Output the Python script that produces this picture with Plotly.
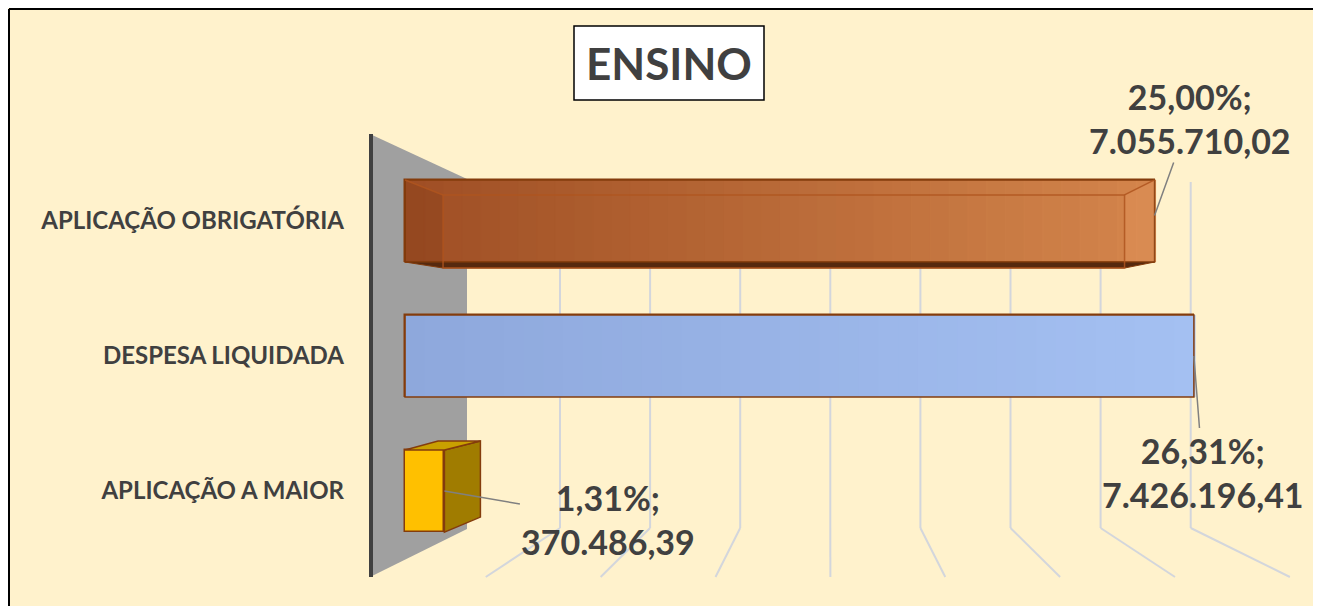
import plotly.graph_objects as go

# ---- data ----
categories = ["APLICAÇÃO A MAIOR", "DESPESA LIQUIDADA", "APLICAÇÃO OBRIGATÓRIA"]
values = [370486.39, 7426196.41, 7055710.02]
percents = [1.31, 26.31, 25.00]
title_text = "ENSINO"

# ---- geometry helpers ----
# the page body adds an 8px margin, so the figure starts at page (8, 8)
OFF = 8
W, H = 1321 - OFF, 606 - OFF
PL, PR, PT, PB = 370, 1300, 130, 580      # plot area in page pixels
L, R, T, B = PL - OFF, PR - OFF, PT - OFF, PB - OFF
XMIN, XMAX = -330000, 8425000
YMIN, YMAX = -0.659, 2.674
DXU = (XMAX - XMIN) / (R - L)   # data units per pixel (x)
DYU = (YMAX - YMIN) / (B - T)   # data units per pixel (y)
HW = 0.304                      # half bar width


def px(x):
    return (x - PL) / (PR - PL)


def py(y):
    return (PB - y) / (PB - PT)


def br(v):
    s = f"{v:,.2f}"
    return s.replace(",", "#").replace(".", ",").replace("#", ".")


def pct(p):
    return f"{p:.2f}".replace(".", ",") + "%"


def mix(c1, c2, t):
    return "rgb(%d,%d,%d)" % tuple(round(a + (b - a) * t) for a, b in zip(c1, c2))


FONT = "Lato"
TXT = "#404040"
EDGE = "#843C0C"

bar_colors = ["#FFC000", "#97B3E5", "rgba(184,98,46,0.93)"]

fig = go.Figure()
fig.add_trace(go.Bar(
    x=values, y=list(range(len(categories))), orientation="h",
    width=2 * HW, marker=dict(color=bar_colors, line=dict(color=EDGE, width=1.5)),
    hoverinfo="skip",
))

shapes = []

# outer border (only top/left visible, as in reference)
shapes.append(dict(type="line", xref="paper", yref="paper",
                   x0=px(9), x1=px(1330), y0=py(9), y1=py(9),
                   line=dict(color="black", width=2), layer="below"))
shapes.append(dict(type="line", xref="paper", yref="paper",
                   x0=px(9), x1=px(9), y0=py(9), y1=py(620),
                   line=dict(color="black", width=2), layer="below"))

# floor / back grid lines (decoration)
vp = 830
for k in range(8):
    xb = 560 + 90.1 * k
    xf = vp + (xb - vp) * 1.275
    shapes.append(dict(type="line", xref="paper", yref="paper",
                       x0=px(xb), x1=px(xb), y0=py(182), y1=py(528),
                       line=dict(color="#D3D6DC", width=2), layer="below"))
    shapes.append(dict(type="line", xref="paper", yref="paper",
                       x0=px(xb), x1=px(xf), y0=py(528), y1=py(577),
                       line=dict(color="#D3D6DC", width=2), layer="below"))

# grey side wall
shapes.append(dict(type="path", xref="paper", yref="paper",
                   path=f"M {px(370)} {py(134)} L {px(467)} {py(179)} L {px(467)} {py(529)} L {px(370)} {py(577)} Z",
                   fillcolor="#A0A0A0", line=dict(width=0), layer="below"))
shapes.append(dict(type="line", xref="paper", yref="paper",
                   x0=px(371), x1=px(371), y0=py(134), y1=py(577),
                   line=dict(color="#404040", width=4), layer="below"))

# horizontal colour gradients over the brown and blue bars
N = 40
grads = {2: ((158, 78, 36), (212, 134, 76), 0.94), 1: ((142, 168, 220), (164, 192, 242), 1.0)}
for idx, (c1, c2, op) in grads.items():
    v = values[idx]
    for s in range(N):
        shapes.append(dict(type="rect", xref="x", yref="y",
                           x0=v * s / N, x1=v * (s + 1) / N + v * 0.002,
                           y0=idx - HW, y1=idx + HW,
                           fillcolor=mix(c1, c2, s / (N - 1)), opacity=op,
                           line=dict(width=0), layer="above"))
    shapes.append(dict(type="rect", xref="x", yref="y", x0=0, x1=v, y0=idx - HW, y1=idx + HW,
                       line=dict(color=EDGE, width=1.5), layer="above"))

# 3D details for "APLICAÇÃO OBRIGATÓRIA" (index 2)
v, yc = values[2], 2
fl, fr, ft, fb = 38 * DXU, 30 * DXU, 15 * DYU, 6 * DYU
shapes.append(dict(type="path", xref="x", yref="y",
                   path=f"M 0 {yc+HW} L {fl} {yc+HW-ft} L {fl} {yc-HW-fb} L 0 {yc-HW} Z",
                   fillcolor="rgba(90,35,5,0.15)", line=dict(width=0), layer="above"))
shapes.append(dict(type="path", xref="x", yref="y",
                   path=f"M {v} {yc+HW} L {v-fr} {yc+HW-ft} L {v-fr} {yc-HW-fb} L {v} {yc-HW} Z",
                   fillcolor="rgba(240,165,110,0.22)", line=dict(width=0), layer="above"))
shapes.append(dict(type="path", xref="x", yref="y",
                   path=f"M 0 {yc-HW} L {v} {yc-HW} L {v-fr} {yc-HW-fb} L {fl} {yc-HW-fb} Z",
                   fillcolor="#56290E", line=dict(color=EDGE, width=1), layer="above"))
shapes.append(dict(type="rect", xref="x", yref="y",
                   x0=fl, x1=v - fr, y0=yc - HW - fb, y1=yc + HW - ft,
                   line=dict(color="rgba(175,85,30,0.85)", width=1.5), layer="above"))
shapes.append(dict(type="line", xref="x", yref="y", x0=0, y0=yc + HW, x1=fl, y1=yc + HW - ft,
                   line=dict(color="rgba(175,85,30,0.85)", width=1.5), layer="above"))
shapes.append(dict(type="line", xref="x", yref="y", x0=v, y0=yc + HW, x1=v - fr, y1=yc + HW - ft,
                   line=dict(color="rgba(175,85,30,0.85)", width=1.5), layer="above"))

# 3D details for "APLICAÇÃO A MAIOR" (index 0)
v, yc = values[0], 0
dx, dtop, dbot = 36 * DXU, 9 * DYU, 15 * DYU
shapes.append(dict(type="path", xref="x", yref="y",
                   path=f"M {v} {yc+HW} L {v+dx} {yc+HW+dtop} L {v+dx} {yc-HW+dbot} L {v} {yc-HW} Z",
                   fillcolor="#A07C00", line=dict(color=EDGE, width=1.5), layer="above"))
shapes.append(dict(type="path", xref="x", yref="y",
                   path=f"M 0 {yc+HW} L {v} {yc+HW} L {v+dx} {yc+HW+dtop} L {33*DXU} {yc+HW+dtop} Z",
                   fillcolor="#C9A000", line=dict(color=EDGE, width=1.5), layer="above"))

# title box
shapes.append(dict(type="rect", xref="paper", yref="paper",
                   x0=px(574), x1=px(764), y0=py(100), y1=py(26),
                   fillcolor="white", line=dict(color="black", width=1.5), layer="below"))

annotations = [dict(
    xref="paper", yref="paper", x=px(669), y=py(63), text=f"<b>{title_text}</b>",
    showarrow=False, font=dict(family=FONT, size=44, color=TXT),
    xanchor="center", yanchor="middle",
)]

label_offsets = [(164, 28), (9, 116), (35, -97)]
label_yshift = [0, 0, 0.04]
for i, (val, p) in enumerate(zip(values, percents)):
    ax, ay = label_offsets[i]
    annotations.append(dict(
        x=val, y=i + label_yshift[i], xref="x", yref="y",
        text=f"<b>{pct(p)};<br>{br(val)}</b>",
        showarrow=True, arrowhead=0, arrowwidth=1.5, arrowcolor="#808080",
        ax=ax, ay=ay, standoff=0, startstandoff=0,
        font=dict(family=FONT, size=34, color=TXT), align="center",
    ))

fig.update_layout(
    width=W, height=H,
    margin=dict(l=L, r=W - R, t=T, b=H - B, pad=0),
    paper_bgcolor="#FFF2CC", plot_bgcolor="rgba(0,0,0,0)",
    showlegend=False, bargap=0,
    xaxis=dict(range=[XMIN, XMAX], showgrid=False, zeroline=False,
               showticklabels=False, showline=False, fixedrange=True),
    yaxis=dict(range=[YMIN, YMAX], tickvals=list(range(len(categories))),
               ticktext=[f"<b>{c}</b>" for c in categories],
               showgrid=False, zeroline=False, showline=False,
               ticks="", ticklabelstandoff=25,
               tickfont=dict(family=FONT, size=24, color=TXT)),
    shapes=shapes, annotations=annotations,
)

fig.write_html("out.html")
